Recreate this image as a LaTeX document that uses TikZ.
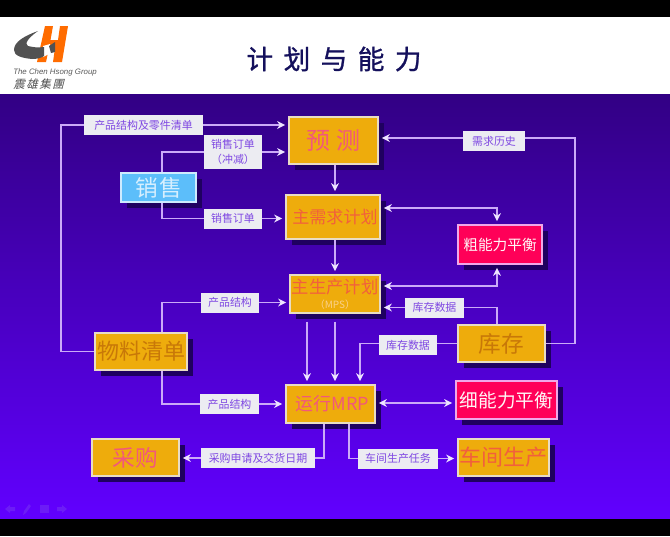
\documentclass[tikz,border=0pt]{standalone}
\usepackage{fontspec}
\setmainfont{Liberation Sans}
\newfontfamily\cjk{Noto Sans CJK SC}
\newfontfamily\cjktitle[FakeBold=1]{Noto Sans CJK SC}
\newfontfamily\cjkslant[FakeSlant=0.25]{Noto Sans CJK SC}
\usetikzlibrary{arrows.meta,shadows,calc}
\definecolor{linkc}{HTML}{CBAAF8}
\definecolor{tipc}{HTML}{EDE4FF}
\definecolor{boxc}{HTML}{EEAC0C}
\definecolor{redc}{HTML}{FF0058}
\definecolor{bluec}{HTML}{5CBEFA}
\definecolor{edgec}{HTML}{E9DCC4}
\definecolor{pinkedge}{HTML}{F0A8E8}
\definecolor{shadowc}{HTML}{1F0060}
\definecolor{labelc}{HTML}{ECECF2}
\definecolor{labeltext}{HTML}{7F48E2}
\definecolor{pinktext}{HTML}{F2587A}
\definecolor{oranget}{HTML}{F2603C}
\definecolor{mpstext}{HTML}{FAD08A}
\definecolor{brownt}{HTML}{C87808}
\definecolor{navy}{HTML}{14105C}
\definecolor{navc}{HTML}{6C1CF6}
\newcommand{\fs}[1]{\cjk\fontsize{#1}{#1}\selectfont}
\tikzset{
  tipstyle/.tip={Stealth[length=6pt,width=6pt,color=tipc,fill=tipc,line width=0pt]},
  box/.style={draw=edgec,line width=0.9pt,fill=boxc,inner sep=0pt,
    drop shadow={shadow xshift=4.5pt,shadow yshift=-4.5pt,fill=shadowc,opacity=1}},
  redbox/.style={box,fill=redc,draw=pinkedge,text=white!85!pink},
  bluebox/.style={box,fill=bluec,draw=white!70!bluec,text=white!75!bluec},
  tag/.style={fill=labelc,inner sep=0pt,text=labeltext,font=\fs{8.2},align=center},
  link/.style={draw=linkc,line width=1.1pt},
  arr/.style={link,-tipstyle,shorten >=2.5pt},
  biarr/.style={link,tipstyle-tipstyle,shorten >=2.5pt,shorten <=2.5pt}
}
\begin{document}
\begin{tikzpicture}[x=0.75pt,y=-0.75pt]
\useasboundingbox (0,0) rectangle (670,536);
% page bands
\fill[black] (0,0) rectangle (670,17);
\fill[white] (0,17) rectangle (670,94);
\shade[top color={rgb,255:red,50;green,0;blue,132},bottom color={rgb,255:red,97;green,0;blue,255}] (0,94) rectangle (670,519);
\fill[black] (0,519) rectangle (670,536);
% logo
\fill[orange!85!red] (45,26) -- (53,26) -- (50.5,40) -- (58,40) -- (60,26) -- (68,26) -- (62,62) -- (53,62) -- (55,48) -- (49,48) -- (46,62) -- (37,62) -- cycle;
\fill[white] (43,46) -- (50,44) -- (51,53) -- (43,57) -- cycle;
\fill[black!68] (38,31) .. controls (24,36) and (14,42) .. (14,50) .. controls (14,56) and (22,58) .. (32,59) .. controls (37,59) and (41,58) .. (44,56) -- (44,47) .. controls (38,48) and (32,47) .. (28,46) .. controls (24,44) and (28,38) .. (38,31) -- cycle;
\fill[black!68] (49,46) -- (55,42) -- (55,52) -- (51,53) -- cycle;
\node[font=\itshape\fontsize{5.9}{7}\selectfont,text=black!65,inner sep=0pt,anchor=west] (brand) at (13,72) {The Chen Hsong Group};
\node[font=\cjkslant\fontsize{8.6}{9}\selectfont,text=black!70,inner sep=0pt,anchor=west] (brandcn) at (13,84) {震\hspace{1.2pt}雄\hspace{1.2pt}集\hspace{1.2pt}團};
% title
\node[font=\cjktitle\fontsize{20}{20}\selectfont,text=navy,inner sep=0pt] (title) at (334,59) {计\hspace{7.8pt}划\hspace{7.8pt}与\hspace{7.8pt}能\hspace{7.8pt}力};
% nav icons
\fill[navc] (5,509) -- (10,505) -- (10,507) -- (15,507) -- (15,511) -- (10,511) -- (10,513) -- cycle;
\fill[navc] (23,515) -- (24,511) -- (29,504) -- (31,506) -- (26,513) -- cycle;
\fill[navc] (40,505) rectangle (49,513);
\fill[navc] (67,509) -- (62,505) -- (62,507) -- (57,507) -- (57,511) -- (62,511) -- (62,513) -- cycle;
% boxes
\node[box,minimum width=66.75pt,minimum height=35.25pt,text=pinktext,font=\fs{18}] (fc) at (333.5,140.5) {预\hspace{5pt}测};
\node[box,minimum width=70.5pt,minimum height=33pt,text=oranget,font=\fs{12.8}] (mds) at (333,217) {\hspace{3pt}主需求计划};
\node[box,minimum width=67.5pt,minimum height=28.5pt,text=oranget,align=center] (mps) at (335,294) {{\fs{13}主生产计划}\\[-1pt]{\color{mpstext}\fs{7.5}（MPS）}};
\node[box,minimum width=66.75pt,minimum height=28.5pt,text=pinktext,font=\fs{13.5}] (mrp) at (330.5,404) {\hspace{3pt}运行MRP};
\node[bluebox,minimum width=56.25pt,minimum height=21.75pt,font=\fs{17}] (sales) at (158.5,187.5) {销\hspace{1pt}售};
\node[box,minimum width=69pt,minimum height=27.75pt,text=brownt,font=\fs{16.5}] (bom) at (141,351.5) {物料清单};
\node[box,minimum width=65.25pt,minimum height=27.75pt,text=pinktext,font=\fs{17}] (buy) at (135.5,457.5) {采购};
\node[redbox,minimum width=63pt,minimum height=29.25pt,font=\fs{11}] (rccp) at (500,244.5) {粗能力平衡};
\node[box,minimum width=65.25pt,minimum height=27.75pt,text=brownt,font=\fs{17}] (inv) at (501.5,343.5) {库存};
\node[redbox,minimum width=75.75pt,minimum height=28.5pt,font=\fs{14}] (crp) at (506.5,400) {细能力平衡};
\node[box,minimum width=68.25pt,minimum height=27.75pt,text=oranget,font=\fs{16.5}] (shop) at (503.5,457.5) {车间生产};
% labels
\node[tag,minimum width=89.25pt,minimum height=15pt] (t1) at (143.5,125) {产品结构及零件清单};
\node[tag,minimum width=43.5pt,minimum height=25pt] (t2) at (233,152) {销售订单\\[2.5pt]（冲减）};
\node[tag,minimum width=43.5pt,minimum height=15pt] (t3) at (233,218.5) {销售订单};
\node[tag,minimum width=46.5pt,minimum height=15pt] (t4) at (494,141) {需求历史};
\node[tag,minimum width=44.25pt,minimum height=15pt] (t5) at (434.5,307.5) {库存数据};
\node[tag,minimum width=43.5pt,minimum height=15pt] (t6) at (408,345) {库存数据};
\node[tag,minimum width=43.5pt,minimum height=15pt] (t7) at (230,302.5) {产品结构};
\node[tag,minimum width=44.25pt,minimum height=15pt] (t8) at (229.5,404) {产品结构};
\node[tag,minimum width=85.5pt,minimum height=15pt] (t9) at (258,458) {采购申请及交货日期};
\node[tag,minimum width=60pt,minimum height=15pt] (t10) at (398,458.5) {车间生产任务};
% routing guides
\coordinate (xl) at (61,0);
\coordinate (xs) at (162,0);
\coordinate (xm) at (497,0);
\coordinate (xr) at (575,0);
\coordinate (xi) at (360,0);
\coordinate (xa) at (307,0);
\coordinate (xb) at (335,0);
\coordinate (xp) at (324,0);
\coordinate (xq) at (349,0);
\coordinate (ya) at (0,208);
\coordinate (yb) at (0,286);
\coordinate (yh) at (0,138);
\coordinate (yc) at (0,403);
% connectors
\draw[link] (bom.west) -- (xl |- bom.west) -- (xl |- t1.west) -- (t1.west);
\draw[arr] (t1.east) -- (t1.east -| fc.west);
\draw[link] (xs |- sales.north) -- (xs |- t2.west) -- (t2.west);
\draw[arr] (t2.east) -- (t2.east -| fc.west);
\draw[link] (xs |- sales.south) -- (xs |- t3.west) -- (t3.west);
\draw[arr] (t3.east) -- (t3.east -| mds.west);
\draw[arr] (xb |- fc.south) -- (xb |- mds.north);
\draw[arr] (xb |- mds.south) -- (xb |- mps.north);
\draw[arr,shorten <=6pt] (xa |- mps.south) -- (xa |- mrp.north);
\draw[arr,shorten <=6pt] (xb |- mps.south) -- (xb |- mrp.north);
\draw[arr] (yh -| t4.west) -- (yh -| fc.east);
\draw[link] (yh -| t4.east) -- (yh -| xr) -- (xr |- inv.east) -- (inv.east);
\draw[biarr] (ya -| mds.east) -- (ya -| xm) -- (xm |- rccp.north);
\draw[biarr] (yb -| mps.east) -- (yb -| xm) -- (xm |- rccp.south);
\draw[link] (xm |- inv.north) -- (xm |- t5.east) -- (t5.east);
\draw[arr] (t5.west) -- (t5.west -| mps.east);
\draw[link] (inv.west) -- (t6.east |- inv.west);
\draw[arr] (t6.west |- inv.west) -- (xi |- inv.west) -- (xi |- mrp.north);
\draw[link] (xs |- bom.north) -- (xs |- t7.west) -- (t7.west);
\draw[arr] (t7.east) -- (t7.east -| mps.west);
\draw[link] (xs |- bom.south) -- (xs |- t8.west) -- (t8.west);
\draw[arr] (t8.east) -- (t8.east -| mrp.west);
\draw[biarr] (yc -| mrp.east) -- (yc -| crp.west);
\draw[link] (xp |- mrp.south) -- (xp |- t9.east) -- (t9.east);
\draw[arr] (t9.west) -- (t9.west -| buy.east);
\draw[link] (xq |- mrp.south) -- (xq |- t10.west) -- (t10.west);
\draw[arr] (t10.east) -- (t10.east -| shop.west);
\end{tikzpicture}
\end{document}
